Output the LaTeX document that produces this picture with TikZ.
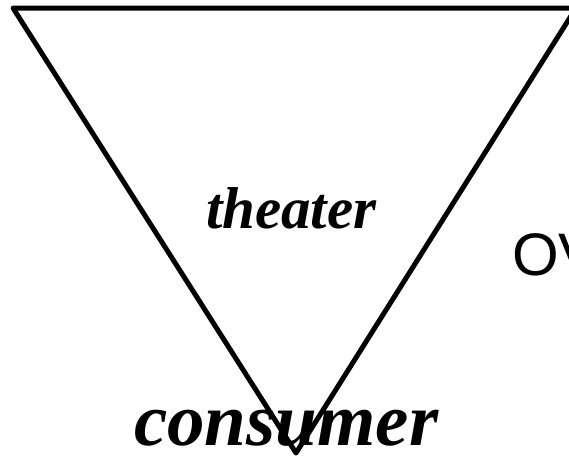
\documentclass[tikz,border=0pt]{standalone}
\usepackage{fontspec}
\setmainfont{Liberation Serif}
\newfontfamily\headsans{Liberation Sans}

\begin{document}
\begin{tikzpicture}[
    x=1pt, y=-1pt,
    every node/.style={inner sep=0pt, outer sep=0pt},
    word/.style={font=\bfseries\itshape\fontsize{#1}{#1}\selectfont}
]
\useasboundingbox (0,0) rectangle (569,456);
\clip (0,0) rectangle (569,456);

\coordinate (topleft) at (13,8);
\coordinate (topright) at (576,8);
\coordinate (apex) at (296,453);

\draw[line width=5pt, line join=round] (topleft) -- (topright) -- (apex) -- cycle;

\node (theater) [word=59, anchor=base west] at (206,228) {theater};
\node (consumer) [word=75, anchor=base west] at (134,445) {consumer};
\node (ov) [font=\headsans\fontsize{60}{60}\selectfont, anchor=base west] at (512,275) {OV};
\end{tikzpicture}
\end{document}
